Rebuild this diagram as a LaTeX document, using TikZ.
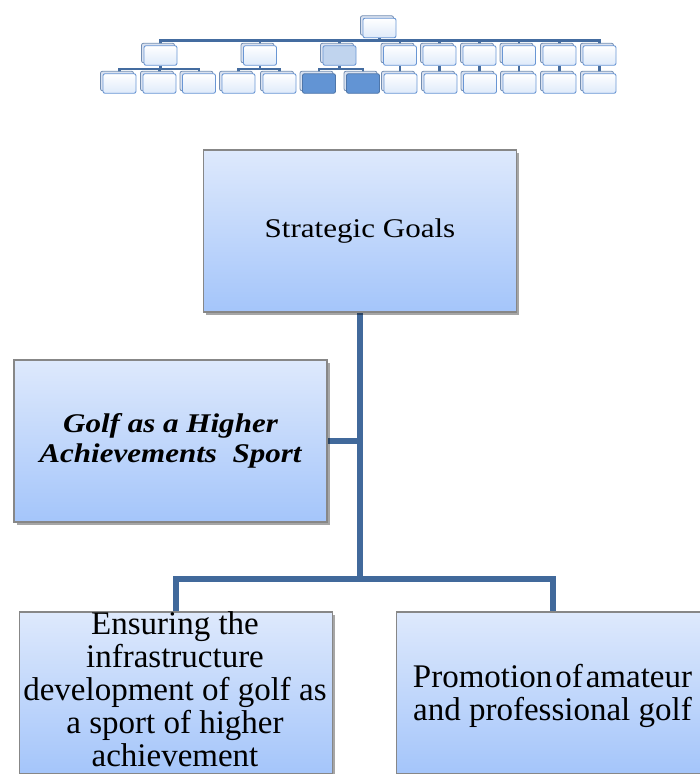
\documentclass[tikz,border=0pt]{standalone}
\usepackage{fontspec}
\setmainfont{Liberation Serif}
\newfontfamily\widefont{Liberation Serif}[FakeStretch=1.15]
\usetikzlibrary{shadows}
\pgfdeclarelayer{bg}
\pgfsetlayers{bg,main}
\definecolor{linec}{RGB}{65,105,155}
\definecolor{boxtop}{RGB}{222,233,252}
\definecolor{boxbot}{RGB}{164,197,250}
\definecolor{boxedge}{RGB}{135,135,135}
\definecolor{minitop}{RGB}{255,255,255}
\definecolor{minibot}{RGB}{222,234,250}
\definecolor{miniedge}{RGB}{105,150,212}
\definecolor{miniback}{RGB}{218,226,240}
\definecolor{minimidc}{RGB}{192,212,238}
\definecolor{minidarkc}{RGB}{98,148,212}
\definecolor{minilinkc}{RGB}{68,108,160}
\newcommand\tightspaces{\spaceskip=3pt plus 1pt\relax}
\begin{document}
\begin{tikzpicture}[x=1pt,y=-1pt,
 bigbox/.style={draw=boxedge,line width=1.2pt,top color=boxtop,bottom color=boxbot,
   minimum width=313pt,minimum height=162pt,inner sep=0pt,align=center,
   drop shadow={shadow xshift=2.5pt,shadow yshift=-2.5pt,opacity=0.35,fill=black}},
 conn/.style={draw=linec,line width=5.5pt},
 mini/.style={draw=miniedge,line width=0.9pt,rounded corners=2pt,top color=minitop,bottom color=minibot,
   minimum width=33pt,minimum height=19.5pt,inner sep=0pt,
   general shadow={shadow xshift=-2.5pt,shadow yshift=2.5pt,fill=miniback,draw=miniedge!60!gray,line width=0.8pt}},
 minimid/.style={mini,top color=minimidc,bottom color=minimidc},
 minidark/.style={mini,top color=minidarkc,bottom color=minidarkc,draw=minidarkc!80!black},
 minilink/.style={draw=minilinkc,line width=2.2pt},
 bigtxt/.style={font=\fontsize{33}{33}\selectfont,align=center,inner sep=0pt}
]
\useasboundingbox (0,0) rectangle (700,774);
\clip (0,0) rectangle (700,774);

% mini org chart
\node[mini] (t) at (379.5,28) {};
\foreach \x/\s [count=\i] in {160.5/mini,260/mini,339.5/minimid,400/mini,439.5/mini,479.5/mini,519/mini,559.5/mini,599.5/mini}
  \node[\s] (m\i) at (\x,55.5) {};
\foreach \x/\s [count=\i] in {119.5/mini,159.5/mini,199/mini,238.5/mini,279.5/mini,319/minidark,363/minidark,400.5/mini,440.5/mini,480/mini,519.5/mini,559.5/mini,599.5/mini}
  \node[\s] (b\i) at (\x,83.5) {};
\begin{pgfonlayer}{bg}
\foreach \i in {1,...,9} \draw[minilink] (t.south) -- ++(0,2.2) -| (m\i.north);
\foreach \i in {1,2,3} \draw[minilink] (m1.south) -- ++(0,3.3) -| (b\i.north);
\foreach \i in {4,5} \draw[minilink] (m2.south) -- ++(0,3.3) -| (b\i.north);
\foreach \i in {6,7} \draw[minilink] (m3.south) -- ++(0,3.3) -| (b\i.north);
\foreach \i [evaluate=\i as \j using int(\i+4)] in {4,...,9} \draw[minilink] (m\i.south) -- (m\i.south |- b\j.north);
\end{pgfonlayer}

% main boxes
\node[bigbox,font=\widefont\fontsize{27}{30}\selectfont] (sg) at (360,231) {Strategic Goals};
\node[bigbox,font=\widefont\fontsize{27}{30}\selectfont\bfseries\itshape] (golf) at (170.5,441) {Golf as a Higher\\Achievements\ \ Sport};
\node[bigbox] (e1) at (176,693) {};
\node[bigbox] (pr) at (553,693) {};
\node[bigtxt] (e1t) at (175,689) {Ensuring the\\infrastructure\\development of golf as\\a sport of higher\\achievement};
\node[bigtxt] (prt) at (552.5,696) {\tightspaces Promotion of amateur\\and professional golf};

% connectors
\coordinate (split) at (360,579);
\begin{pgfonlayer}{bg}
\draw[conn] (sg.south) -- (split);
\draw[conn] (golf.east) -- (golf.east -| split);
\draw[conn] (split) -| (e1.north);
\draw[conn] (split) -| (pr.north);
\end{pgfonlayer}
\end{tikzpicture}
\end{document}
